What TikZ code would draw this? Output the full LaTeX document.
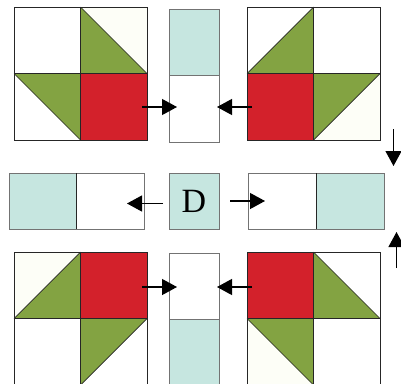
\documentclass[tikz,border=0pt]{standalone}
\usepackage{fontspec}
\setmainfont{Liberation Serif}
\usetikzlibrary{arrows.meta}
\definecolor{qgreen}{HTML}{83A342}
\definecolor{qred}{HTML}{D3212B}
\definecolor{qteal}{HTML}{C6E6E0}
\definecolor{qcream}{HTML}{FDFEF7}
\tikzset{
  edge/.style={draw=black!85, line width=0.7pt},
  gedge/.style={draw=black!55, line width=0.7pt},
  flow/.style={line width=1.2pt, -{Triangle[length=15pt,width=16pt]}},
}
\begin{document}
\begin{tikzpicture}[x=1pt,y=-1pt]
\useasboundingbox (0,0) rectangle (401,383);
% ---------- top-left block ----------
\fill[qcream] (80.5,7) -- (147,7) -- (147,73.5) -- cycle;
\fill[qgreen] (80.5,7) -- (80.5,73.5) -- (147,73.5) -- cycle;
\fill[qgreen] (14,73.5) -- (80.5,73.5) -- (80.5,140) -- cycle;
\fill[qred] (80.5,73.5) rectangle (147,140);
\draw[edge] (14,7) rectangle (147,140);
\draw[edge] (80.5,7) -- (80.5,140) (14,73.5) -- (147,73.5);
\draw[edge] (80.5,7) -- (147,73.5) (14,73.5) -- (80.5,140);
% ---------- top-right block ----------
\fill[qgreen] (313.5,7) -- (247,73.5) -- (313.5,73.5) -- cycle;
\fill[qred] (247,73.5) rectangle (313.5,140);
\fill[qcream] (380,73.5) -- (380,140) -- (313.5,140) -- cycle;
\fill[qgreen] (313.5,73.5) -- (380,73.5) -- (313.5,140) -- cycle;
\draw[edge] (247,7) rectangle (380,140);
\draw[edge] (313.5,7) -- (313.5,140) (247,73.5) -- (380,73.5);
\draw[edge] (313.5,7) -- (247,73.5) (380,73.5) -- (313.5,140);
% ---------- bottom-left block ----------
\fill[qcream] (14,252) -- (80.5,252) -- (14,318.5) -- cycle;
\fill[qgreen] (80.5,252) -- (14,318.5) -- (80.5,318.5) -- cycle;
\fill[qred] (80.5,252) rectangle (147,318.5);
\fill[qgreen] (80.5,318.5) -- (147,318.5) -- (80.5,385) -- cycle;
\draw[edge] (14,252) rectangle (147,385);
\draw[edge] (80.5,252) -- (80.5,385) (14,318.5) -- (147,318.5);
\draw[edge] (80.5,252) -- (14,318.5) (147,318.5) -- (80.5,385);
% ---------- bottom-right block ----------
\fill[qred] (247,252) rectangle (313.5,318.5);
\fill[qgreen] (313.5,252) -- (313.5,318.5) -- (380,318.5) -- cycle;
\fill[qcream] (247,318.5) -- (247,385) -- (313.5,385) -- cycle;
\fill[qgreen] (247,318.5) -- (313.5,318.5) -- (313.5,385) -- cycle;
\draw[edge] (247,252) rectangle (380,385);
\draw[edge] (313.5,252) -- (313.5,385) (247,318.5) -- (380,318.5);
\draw[edge] (313.5,252) -- (380,318.5) (247,318.5) -- (313.5,385);
% ---------- strips ----------
\fill[qteal] (169,9) rectangle (219,75.5);
\draw[gedge] (169,9) rectangle (219,142) (169,75.5) -- (219,75.5);
\fill[qteal] (169,319.5) rectangle (219,386);
\draw[gedge] (169,253) rectangle (219,386) (169,319.5) -- (219,319.5);
% ---------- middle row ----------
\fill[qteal] (9,173) rectangle (76.5,229);
\draw[gedge] (9,173) rectangle (144,229);
\draw[edge] (76.5,173) -- (76.5,229);
\node[fill=qteal, draw=black!55, line width=0.7pt, minimum width=50pt, minimum height=56pt,
      inner sep=0pt, font=\fontsize{34}{34}\selectfont] (D) at (194,201) {D};
\fill[qteal] (316,173) rectangle (384,229);
\draw[gedge] (248,173) rectangle (384,229);
\draw[edge] (316,173) -- (316,229);
% ---------- arrows ----------
\coordinate (a1s) at (142,107); \coordinate (a1e) at (177,107);
\coordinate (a2s) at (252,107); \coordinate (a2e) at (217,107);
\coordinate (a3s) at (163,203.5); \coordinate (a3e) at (127,203.5);
\coordinate (a4s) at (230,201); \coordinate (a4e) at (265,201);
\coordinate (a5s) at (142,287); \coordinate (a5e) at (177,287);
\coordinate (a6s) at (252,287); \coordinate (a6e) at (217,287);
\coordinate (a7s) at (393.5,129); \coordinate (a7e) at (393.5,166);
\coordinate (a8s) at (396.5,268); \coordinate (a8e) at (396.5,232);
\foreach \i in {1,...,8} {\draw[flow] (a\i s) -- (a\i e);}
\end{tikzpicture}
\end{document}
